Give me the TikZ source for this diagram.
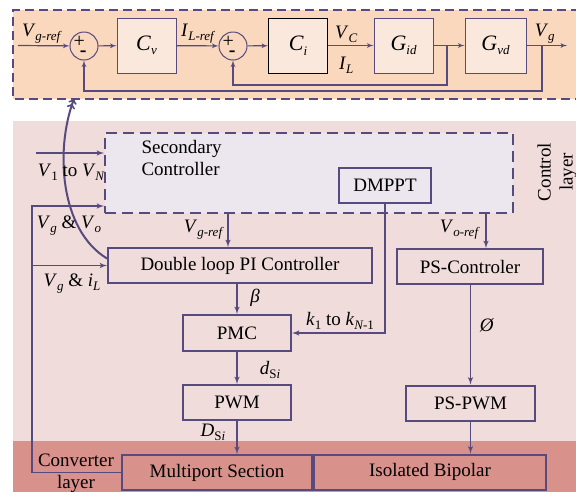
\documentclass[tikz,border=0pt]{standalone}
\usepackage{fontspec}
\setmainfont{Liberation Serif}
\usetikzlibrary{arrows}
\usetikzlibrary{positioning}

\definecolor{linecol}{HTML}{574A7E}
\definecolor{toporange}{HTML}{F9D8BE}
\definecolor{blockfill}{HTML}{FBE8DC}
\definecolor{ctrlpink}{HTML}{F0DCDB}
\definecolor{convred}{HTML}{D9918B}
\definecolor{secfill}{HTML}{ECE6EE}

% italic symbol with italic subscript
\newcommand{\vsub}[2]{\textit{#1}\raisebox{-0.45ex}{\fontsize{13}{14}\selectfont\itshape #2}}
% same, upright subscript
\newcommand{\vsubr}[2]{\textit{#1}\raisebox{-0.45ex}{\fontsize{13}{14}\selectfont #2}}
% signs inside a summing junction
\newcommand{\plusminus}{\kern-8pt+\kern-5pt\raisebox{-9pt}{\textbf{-}}}

\begin{document}
\begin{tikzpicture}[x=1pt,y=-1pt,>=latex',
	font=\fontsize{19}{22}\selectfont,
	tf block/.style={draw=linecol,fill=blockfill,line width=1pt,minimum width=59pt,
		minimum height=55pt,font=\fontsize{22}{24}\selectfont},
	sum node/.style={circle,draw=linecol,line width=1pt,minimum size=28pt,inner sep=0pt,
		font=\fontsize{20}{20}\selectfont},
	ctrl block/.style={draw=linecol,line width=2pt,minimum height=35pt,inner sep=2pt},
	tsig/.style={->,draw=linecol,line width=1.2pt},
	sig/.style={->,draw=linecol,line width=1.5pt}]
	
	\useasboundingbox (0,0) rectangle (576,491);
	
	% layers
	\fill[toporange] (13,10) rectangle (580,99);
	\draw[linecol,line width=2pt,dash pattern=on 9pt off 5pt] (580,10) -- (13,10) -- (13,99) -- (580,99);
	\fill[ctrlpink] (13,121) rectangle (580,441);
	\fill[convred] (13,441) rectangle (580,495);
	
	% inner control loops
	\coordinate (vin) at (18,45.5);
	\node[sum node] (s1) at (84,46) {\plusminus};
	\node[tf block] (cv) at (146.5,45.5) {\vsub{C}{v}};
	\node[sum node] (s2) at (233,46) {\plusminus};
	\node[tf block,draw=black] (ci) at (298,45.5) {\vsub{C}{i}};
	\node[tf block] (gid) at (403.5,45.5) {\vsub{G}{id}};
	\node[tf block,minimum width=61pt] (gvd) at (495.5,45.5) {\vsub{G}{vd}};
	\coordinate (vout) at (567,45.5);
	\coordinate (br1) at (447,45.5);
	\coordinate (br2) at (542,45.5);
	
	\path[every node/.style={inner sep=2pt}]
	(vin) edge [tsig] node [above,pos=0.45] {\vsub{V}{g-ref}} (s1)
	(s1) edge [tsig] (cv)
	(cv) edge [tsig] node [above] {\vsub{I}{L-ref}} (s2)
	(s2) edge [tsig] (ci)
	(ci) edge [tsig] node [above,pos=0.4] {\vsub{V}{C}} node [below=9pt,pos=0.4] {\vsub{I}{L}} (gid)
	(gid) edge [tsig] (gvd)
	(gvd) edge [tsig] node [above,pos=0.45] {\vsub{V}{g}} (vout);
	
	\draw[tsig] (br1) -- ++(0,39.5) -| (s2.south);
	\draw[tsig] (br2) -- ++(0,45.5) -| (s1.south);
	
	% control layer
	\node[draw=linecol,fill=secfill,line width=2pt,dash pattern=on 11pt off 6pt,
		minimum width=408pt,minimum height=80pt] (sec) at (309,173) {};
	\node[align=left,anchor=west] (sectxt) at (138,158) {Secondary\\Controller};
	\node[ctrl block,minimum width=92pt] (dmppt) at (385,185.5) {DMPPT};
	\node[ctrl block,minimum width=264pt] (dbl) at (240,265.5) {Double loop PI Controller};
	\node[ctrl block,minimum width=146pt] (psc) at (470,266.5) {PS-Controler};
	\node[ctrl block,minimum width=108pt,minimum height=36pt] (pmc) at (237,333) {PMC};
	\node[ctrl block,minimum width=108pt] (pwm) at (237,402.5) {PWM};
	\node[ctrl block,minimum width=129pt] (pspwm) at (470.5,403) {PS-PWM};
	\node[align=center] (ctrltxt) at (557,172) [rotate=90] {Control\\layer};
	
	% converter layer
	\node[ctrl block,fill=convred,minimum width=190pt] (mps) at (217,472.5) {Multiport Section};
	\node[ctrl block,fill=convred,minimum width=232pt] (iso) at (430,472) {Isolated Bipolar};
	\node[align=center] (convtxt) at (76,473) {Converter\\layer};
	
	\coordinate (in1) at (36,153);
	\coordinate (lftop) at (32,206);
	
	\draw[sig] (in1) -- (in1 -| sec.west);
	\draw[sig] (mps.west) -| (lftop) -- (lftop -| sec.west);
	\draw[sig] (lftop |- dbl.west) -- (dbl.west);
	\draw[sig] ([xshift=-12pt]dbl.north |- sec.south) -- ([xshift=-12pt]dbl.north);
	\draw[sig] ([xshift=16pt]psc.north |- sec.south) -- ([xshift=16pt]psc.north);
	\draw[sig] (pmc.north |- dbl.south) -- (pmc.north);
	\draw[sig] (pmc) -- (pwm);
	\draw[sig] (pwm.south) -- (pwm.south |- mps.north);
	\draw[sig] (dmppt.south) |- (pmc.east);
	\draw[sig] (pspwm.north |- psc.south) -- (pspwm.north);
	\draw[sig] (pspwm.south) -- (pspwm.south |- iso.north);
	\draw[->>,>=to,linecol,line width=2pt] ([yshift=7pt]dbl.west) .. controls (60,230) and (55,150) .. (74,99);
	
	% signal labels
	\node (lv1) at (71,172) {\vsubr{V}{1} to \vsub{V}{N}};
	\node (lvo) at (69,226) {\vsub{V}{g} \& \vsub{V}{o}};
	\node (lil) at (72,284) {\vsub{V}{g} \& \vsub{i}{L}};
	\node (lvgref) at (203,230) {\vsub{V}{g-ref}};
	\node (lvoref) at (459,230) {\vsub{V}{o-ref}};
	\node (lbeta) at (255,298) {\textit{β}};
	\node (ldsi) at (270,370) {\textit{d}\raisebox{-0.45ex}{\fontsize{13}{14}\selectfont S\textit{i}}};
	\node (lDsi) at (213,432) {\textit{D}\raisebox{-0.45ex}{\fontsize{13}{14}\selectfont S\textit{i}}};
	\node (lk) at (340,321) {\vsubr{k}{1} to \vsub{k}{N}\raisebox{-0.45ex}{\fontsize{13}{14}\selectfont -1}};
	\node (lphi) at (487,325) {\textit{Ø}};
\end{tikzpicture}
\end{document}
